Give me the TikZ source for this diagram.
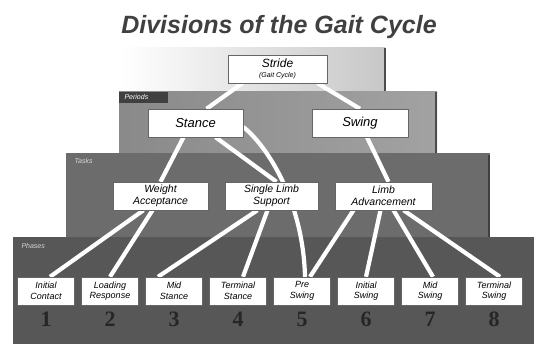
\documentclass[tikz,border=0pt]{standalone}
\usepackage{fontspec}
\setmainfont{Liberation Sans}
\newfontfamily\numfont{Liberation Serif}
\usepackage{tikz}
\definecolor{periodgray}{HTML}{A2A2A2}
\definecolor{taskgray}{HTML}{6C6C6C}
\definecolor{phasegray}{HTML}{575757}
\pgfdeclarelayer{panel}
\pgfdeclarelayer{wire}
\pgfsetlayers{panel,wire,main}

\begin{document}
\begin{tikzpicture}[x=1pt,y=-1pt,
                    box/.style={draw=black!60,fill=white,align=center,inner sep=1pt,
                                minimum height=28pt,font=\itshape\fontsize{10.5}{11.5}\selectfont},
                    phase/.style={box,minimum width=57pt,font=\itshape\fontsize{9}{10.5}\selectfont},
                    link/.style={white,line width=4.2pt},
                    num/.style={font=\numfont\bfseries\fontsize{22}{22}\selectfont,text=black!85},
                    tag/.style={anchor=west,font=\itshape\fontsize{7}{8}\selectfont}]
  \useasboundingbox (0,0) rectangle (534,344);

  \node (TI) at (279,27) {\bfseries\itshape\fontsize{25}{28}\selectfont\color{black!75}Divisions of the Gait Cycle};

  \node[box,minimum width=99pt] (ST) at (277.5,69) {\fontsize{12}{12}\selectfont Stride\\[-1pt]\fontsize{7}{7}\selectfont(Gait Cycle)};
  \node[box,minimum width=95pt,font=\itshape\fontsize{13}{14}\selectfont] (SN) at (195.5,123) {Stance};
  \node[box,minimum width=96pt,font=\itshape\fontsize{13}{14}\selectfont] (SW) at (360,123) {Swing};
  \node[box,minimum width=95pt] (WA) at (160.5,196) {Weight\\Acceptance};
  \node[box,minimum width=93pt] (SL) at (271.5,196) {Single Limb\\Support};
  \node[box,minimum width=97pt] (LA) at (383.5,196) {Limb\\Advancement};
  \node[phase] (IC) at (46,291) {Initial\\Contact};
  \node[phase] (LR) at (110,291) {Loading\\Response};
  \node[phase] (MS) at (174,291) {Mid\\Stance};
  \node[phase] (TS) at (238,291) {Terminal\\Stance};
  \node[phase] (PS) at (302,291) {Pre\\Swing};
  \node[phase] (IS) at (366,291) {Initial\\Swing};
  \node[phase] (MW) at (430,291) {Mid\\Swing};
  \node[phase] (TW) at (494,291) {Terminal\\Swing};

  \node[num] (N1) at (46,319) {1};
  \node[num] (N2) at (110,319) {2};
  \node[num] (N3) at (174,319) {3};
  \node[num] (N4) at (238,319) {4};
  \node[num] (N5) at (302,319) {5};
  \node[num] (N6) at (366,319) {6};
  \node[num] (N7) at (430,319) {7};
  \node[num] (N8) at (494,319) {8};

  % panels
  \begin{pgfonlayer}{panel}
  \shade[left color=white,right color=black!22] (120,48) rectangle (385,92);
  \draw[black!70,line width=1.2pt] (385,48) -- (385,92);
  \shade[left color=periodgray!85!black,right color=periodgray] (119,92) rectangle (437,155);
  \draw[black!70,line width=1.5pt] (436,92) -- (436,155);
  \fill[taskgray] (66,153) rectangle (490,240);
  \draw[black!75,line width=1.5pt] (489,155) -- (489,240);
  \fill[phasegray] (13,237) rectangle (534,344);
  \fill[black!75] (119,92) rectangle (168,103);
  \node[tag,text=white] (PL) at (121,97.5) {Periods};
  \node[tag,text=black!15] (TL) at (71,161) {Tasks};
  \node[tag,text=black!15] (HL) at (18,246) {Phases};
  \end{pgfonlayer}

  % connectors
  \begin{pgfonlayer}{wire}
  \draw[link] ([xshift=-35pt]ST.south) -- ([xshift=11pt]SN.north);
  \draw[link] ([xshift=40pt]ST.south) -- (SW.north);
  \draw[link] ([xshift=-12pt]SN.south) -- (WA.north);
  \draw[link] ([xshift=20pt]SN.south) -- ([xshift=5pt]SL.north);
  \draw[link] ([yshift=-4pt]SN.east) .. controls +(20,15) and +(-2,-80) .. ([xshift=3pt]PS.north);
  \draw[link] ([xshift=7pt]SW.south) -- ([xshift=5pt]LA.north);
  \draw[link] ([xshift=-17pt]WA.south) -- ([xshift=4pt]IC.north);
  \draw[link] ([xshift=-8pt]WA.south) -- (LR.north);
  \draw[link] ([xshift=-14pt]SL.south) -- ([xshift=-16pt]MS.north);
  \draw[link] ([xshift=-4pt]SL.south) -- ([xshift=5pt]TS.north);
  \draw[link] ([xshift=-30pt]LA.south) -- ([xshift=8pt]PS.north);
  \draw[link] ([xshift=-3pt]LA.south) -- (IS.north);
  \draw[link] ([xshift=10pt]LA.south) -- ([xshift=3pt]MW.north);
  \draw[link] ([xshift=20pt]LA.south) -- ([xshift=6pt]TW.north);
  \end{pgfonlayer}
\end{tikzpicture}
\end{document}
